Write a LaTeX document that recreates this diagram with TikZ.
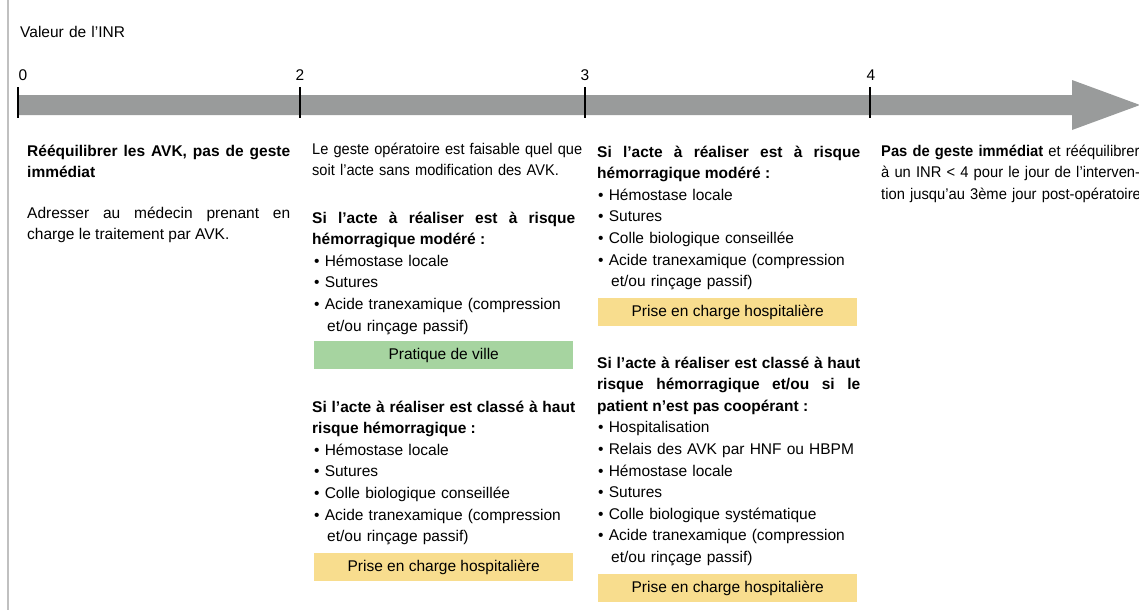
\documentclass[tikz,border=0pt]{standalone}
\usepackage{fontspec}
\setmainfont{Liberation Sans}
\definecolor{bargray}{RGB}{153,155,155}
\definecolor{edgegray}{RGB}{192,192,192}
\definecolor{villegreen}{RGB}{166,212,160}
\definecolor{hospyellow}{RGB}{248,221,142}
\newcommand{\inrfont}{\fontsize{15.5}{21.6}\selectfont}
\hyphenpenalty=10000
\exhyphenpenalty=10000

\begin{document}
\begin{tikzpicture}[x=1pt,y=-1pt,
  txt/.style={anchor=base west,inner sep=0pt,text width=263pt,align=justify,font=\inrfont},
  lst/.style={anchor=base west,inner sep=0pt,text width=263pt,align=left,font=\inrfont},
  tag/.style={anchor=north west,inner sep=0pt,minimum width=259pt,minimum height=28pt,font=\inrfont}]
  \useasboundingbox (0,0) rectangle (1139,610);
  \clip (0,0) rectangle (1139,610);
  \draw[edgegray,line width=1.2pt] (8,0) -- (8,610);
  \node[lst] (inr) at (20,37.5) {Valeur de l’INR};
  % axe des INR
  \fill[bargray] (18,95) -- (1072,95) -- (1072,80) -- (1140,105) -- (1072,130) -- (1072,115) -- (18,115) -- cycle;
  \foreach \x/\v in {18/0,300/2,585/3,870/4}
    \draw[line width=1.6pt] (\x,87) -- (\x,118);
  \node[font=\inrfont,anchor=base,inner sep=0pt] (lab0) at (23,80) {0};
  \node[font=\inrfont,anchor=base,inner sep=0pt] (lab2) at (300,80) {2};
  \node[font=\inrfont,anchor=base,inner sep=0pt] (lab3) at (585,80) {3};
  \node[font=\inrfont,anchor=base,inner sep=0pt] (lab4) at (871,80) {4};
  % INR < 2
  \node[txt] (avkhead) at (27,156) {\textbf{Rééquilibrer les AVK, pas de geste immédiat}};
  \node[txt] (avktext) at (27,218) {Adresser au médecin prenant en charge le traitement par AVK.};
  % 2 < INR < 3
  \node[lst,text width=275pt,font=\inrfont\addfontfeature{FakeStretch=0.94}] (free) at (312,154) {Le geste opératoire est faisable quel que\\soit l’acte sans modification des AVK.};
  \node[txt] (modhead) at (312,223) {\textbf{Si l’acte à réaliser est à risque hémorragique modéré~:}};
  \node[lst] (modlist) at (314,266.2) {\textbullet\ Hémostase locale\\\textbullet\ Sutures\\\textbullet\ Acide tranexamique (compression\\\hspace*{13pt}et/ou rinçage passif)};
  \node[tag,fill=villegreen] (ville) at (314,341) {Pratique de ville};
  \node[txt] (hauthead) at (312,412) {\textbf{Si l’acte à réaliser est classé à haut risque hémorragique~:}};
  \node[lst] (hautlist) at (314,455.2) {\textbullet\ Hémostase locale\\\textbullet\ Sutures\\\textbullet\ Colle biologique conseillée\\\textbullet\ Acide tranexamique (compression\\\hspace*{13pt}et/ou rinçage passif)};
  \node[tag,fill=hospyellow] (hosp1) at (314,553) {Prise en charge hospitalière};
  % 3 < INR < 4
  \node[txt] (modhead3) at (597,157) {\textbf{Si l’acte à réaliser est à risque hémorragique modéré~:}};
  \node[lst] (modlist3) at (598,200.2) {\textbullet\ Hémostase locale\\\textbullet\ Sutures\\\textbullet\ Colle biologique conseillée\\\textbullet\ Acide tranexamique (compression\\\hspace*{13pt}et/ou rinçage passif)};
  \node[tag,fill=hospyellow] (hosp2) at (598,298) {Prise en charge hospitalière};
  \node[txt] (hauthead3) at (597,368) {\textbf{Si l’acte à réaliser est classé à haut\linebreak risque hémorragique et/ou si le\linebreak patient n’est pas coopérant~:}};
  \node[lst] (hautlist3) at (598,432.8) {\textbullet\ Hospitalisation\\\textbullet\ Relais des AVK par HNF ou HBPM\\\textbullet\ Hémostase locale\\\textbullet\ Sutures\\\textbullet\ Colle biologique systématique\\\textbullet\ Acide tranexamique (compression\\\hspace*{13pt}et/ou rinçage passif)};
  \node[tag,fill=hospyellow] (hosp3) at (598,574) {Prise en charge hospitalière};
  % INR > 4
  \node[lst,text width=340pt,font=\inrfont\addfontfeature{FakeStretch=0.95}] (noact) at (881,156) {\textbf{Pas de geste immédiat} et rééquilibrer\\à un INR < 4 pour le jour de l’interven-\\tion jusqu’au 3ème jour post-opératoire};
\end{tikzpicture}
\end{document}
